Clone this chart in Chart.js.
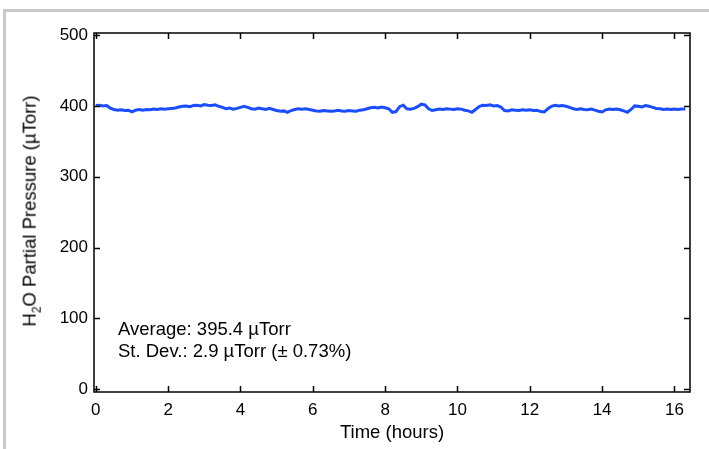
<!DOCTYPE html>
<html>
<head>
<meta charset="utf-8">
<script src="https://cdn.jsdelivr.net/npm/chart.js@4.4.0/dist/chart.umd.min.js"></script>
<style>
    html, body { margin: 0; padding: 0; background: #fff; }
    #wrap { position: relative; width: 709px; height: 449px; overflow: hidden; font-family: "Liberation Sans", Arial, sans-serif; }
    #frame { position: absolute; left: 3px; top: 9px; width: 720px; height: 460px; border-left: 3px solid #c8c8c8; border-top: 3px solid #c8c8c8; }
    #chart { position: absolute; left: 0; top: 0; }
    .note { position: absolute; left: 118px; font-size: 18.5px; line-height: 22px; color: #000; white-space: nowrap; }
    #ytitle { position: absolute; left: 31px; top: 211px; font-size: 18.5px; white-space: nowrap; transform: translate(-50%, -50%) rotate(-90deg); }
    #ytitle sub { font-size: 12px; }
</style>
</head>
<body>
<div id="wrap">
    <div id="frame"></div>
    <canvas id="chart" width="709" height="449"></canvas>
    <div id="ytitle">H<sub>2</sub>O Partial Pressure (µTorr)</div>
    <div class="note" style="top: 318px;">Average: 395.4 µTorr</div>
    <div class="note" style="top: 340px;">St. Dev.: 2.9 µTorr (± 0.73%)</div>
</div>
<script>
const timeHours = [
    0.0, 0.1, 0.2, 0.3, 0.4, 0.5, 0.6, 0.7, 0.8, 0.9,
    1.0, 1.1, 1.2, 1.3, 1.4, 1.5, 1.6, 1.7, 1.8, 1.9,
    2.0, 2.1, 2.2, 2.3, 2.4, 2.5, 2.6, 2.7, 2.8, 2.9,
    3.0, 3.1, 3.2, 3.3, 3.4, 3.5, 3.6, 3.7, 3.8, 3.9,
    4.0, 4.1, 4.2, 4.3, 4.4, 4.5, 4.6, 4.7, 4.8, 4.9,
    5.0, 5.1, 5.2, 5.3, 5.4, 5.5, 5.6, 5.7, 5.8, 5.9,
    6.0, 6.1, 6.2, 6.3, 6.4, 6.5, 6.6, 6.7, 6.8, 6.9,
    7.0, 7.1, 7.2, 7.3, 7.4, 7.5, 7.6, 7.7, 7.8, 7.9,
    8.0, 8.1, 8.2, 8.3, 8.4, 8.5, 8.6, 8.7, 8.8, 8.9,
    9.0, 9.1, 9.2, 9.3, 9.4, 9.5, 9.6, 9.7, 9.8, 9.9,
    10.0, 10.1, 10.2, 10.3, 10.4, 10.5, 10.6, 10.7, 10.8, 10.9,
    11.0, 11.1, 11.2, 11.3, 11.4, 11.5, 11.6, 11.7, 11.8, 11.9,
    12.0, 12.1, 12.2, 12.3, 12.4, 12.5, 12.6, 12.7, 12.8, 12.9,
    13.0, 13.1, 13.2, 13.3, 13.4, 13.5, 13.6, 13.7, 13.8, 13.9,
    14.0, 14.1, 14.2, 14.3, 14.4, 14.5, 14.6, 14.7, 14.8, 14.9,
    15.0, 15.1, 15.2, 15.3, 15.4, 15.5, 15.6, 15.7, 15.8, 15.9,
    16.0, 16.1, 16.2, 16.3
];

// H2O partial pressure, µTorr
const pressure = [
    400.5, 401, 400, 400.5, 397, 395, 394, 394.5, 393.5, 394,
    391.5, 394, 395, 394, 395, 394.5, 395.5, 395, 396, 395.5,
    396, 396.5, 397, 398.5, 399.5, 400, 399, 400.5, 401, 400,
    402, 401, 400.5, 401.5, 399.5, 398, 396, 397, 395.5, 396.5,
    398, 399.5, 398, 396, 395.5, 397, 396, 395, 396.5, 395,
    393.5, 392.5, 393, 390.8, 393.5, 395, 396, 395.5, 396, 395,
    394, 393, 392.5, 393.5, 393, 392.5, 393, 394, 393, 392.5,
    393.5, 393, 392.5, 394, 394.5, 396, 397.5, 398, 397, 398.5,
    397.5, 396, 391, 392, 399, 401, 396, 395.5, 396.5, 399,
    402.5, 401.5, 396, 393.5, 394.5, 395.5, 395, 396, 395.5, 395,
    396, 395.5, 394, 393, 391, 395, 399, 401, 400.5, 401.5,
    400, 400.5, 398.5, 393.5, 393, 394.5, 394, 393.5, 394.5, 394,
    394.5, 393.5, 394, 392, 391.5, 396, 399.5, 401, 400, 400.5,
    399.5, 398, 396, 395, 396, 395, 394.5, 395.5, 394, 392.5,
    391.5, 394.5, 395.5, 395, 395.5, 394.5, 393, 391, 395, 400,
    399.5, 398.5, 400.5, 399.5, 398, 396.5, 396, 395, 395.5, 395,
    395.5, 395, 395.5, 395.5
];

const xTicks = [0, 2, 4, 6, 8, 10, 12, 14, 16];
const yTicks = [0, 100, 200, 300, 400, 500];

// frame box + inward ticks on all four sides
const frameTicks = {
    id: 'frameTicks',
    afterDraw(chart) {
        const ctx = chart.ctx;
        const a = chart.chartArea;
        const xs = chart.scales.x, ys = chart.scales.y;
        const len = 6;
        ctx.save();
        ctx.strokeStyle = '#000';
        ctx.lineWidth = 1.5;
        ctx.strokeRect(a.left, a.top, a.right - a.left, a.bottom - a.top);
        ctx.beginPath();
        xTicks.forEach(v => {
            const px = Math.round(xs.getPixelForValue(v)) + 0.5;
            ctx.moveTo(px, a.bottom); ctx.lineTo(px, a.bottom - len);
            ctx.moveTo(px, a.top); ctx.lineTo(px, a.top + len);
        });
        yTicks.forEach(v => {
            const py = Math.round(ys.getPixelForValue(v)) + 0.5;
            ctx.moveTo(a.left, py); ctx.lineTo(a.left + len, py);
            ctx.moveTo(a.right, py); ctx.lineTo(a.right - len, py);
        });
        ctx.stroke();
        ctx.restore();
    }
};

new Chart(document.getElementById('chart'), {
    type: 'line',
    data: {
        datasets: [{
            data: timeHours.map((t, i) => ({ x: t, y: pressure[i] })),
            borderColor: '#1a4dff',
            borderWidth: 3,
            pointRadius: 0,
            tension: 0,
            fill: false
        }]
    },
    options: {
        responsive: false,
        animation: false,
        devicePixelRatio: 1,
        layout: { padding: { left: 0, right: 19, top: 33, bottom: 0 } },
        plugins: {
            legend: { display: false },
            tooltip: { enabled: false }
        },
        scales: {
            x: {
                type: 'linear',
                min: -0.05,
                max: 16.43,
                afterBuildTicks: s => { s.ticks = xTicks.map(v => ({ value: v })); },
                afterFit: s => { s.height = 57; },
                grid: { display: false },
                border: { display: false },
                ticks: {
                    color: '#000',
                    font: { family: 'Liberation Sans', size: 17 },
                    padding: 0,
                    maxRotation: 0
                },
                title: {
                    display: true,
                    text: 'Time (hours)',
                    color: '#000',
                    font: { family: 'Liberation Sans', size: 18.5 },
                    padding: { top: 0, bottom: 5 }
                }
            },
            y: {
                type: 'linear',
                min: -4,
                max: 503,
                afterBuildTicks: s => { s.ticks = yTicks.map(v => ({ value: v })); },
                afterFit: s => { s.width = 94; },
                grid: { display: false },
                border: { display: false },
                ticks: {
                    color: '#000',
                    font: { family: 'Liberation Sans', size: 17 },
                    padding: -2
                }
            }
        }
    },
    plugins: [frameTicks]
});
</script>
</body>
</html>
